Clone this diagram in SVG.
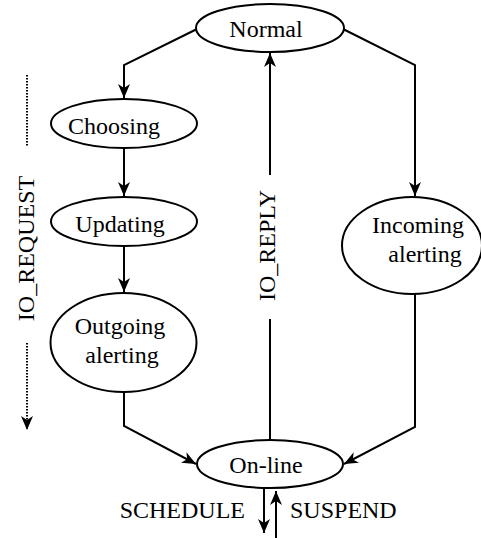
<svg xmlns="http://www.w3.org/2000/svg" width="481" height="538" viewBox="0 0 481 538">
<style>
.n{fill:#fff;stroke:#000;stroke-width:2}
.t{font-family:"Liberation Serif","Times New Roman",serif;font-size:24px;fill:#000;text-anchor:middle}
.c{fill:none;stroke:#000;stroke-width:2}
.d{fill:none;stroke:#000;stroke-width:2;stroke-dasharray:1.5 1.5}
</style>
<defs>
<marker id="a" viewBox="0 0 14 12" refX="14" refY="6" markerWidth="14" markerHeight="12" markerUnits="userSpaceOnUse" orient="auto">
<path d="M0,0 L14,6 L0,12 L4,6 z" fill="#000"/>
</marker>
</defs>
<rect width="481" height="538" fill="#fff"/>
<g id="connectors">
<polyline class="c" points="197,29 124,65 124,98" marker-end="url(#a)"/>
<polyline class="c" points="343,29 415,65 415,196" marker-end="url(#a)"/>
<line class="c" x1="124" y1="148" x2="124" y2="196" marker-end="url(#a)"/>
<line class="c" x1="124" y1="246" x2="124" y2="292" marker-end="url(#a)"/>
<polyline class="c" points="124,392 124,426 196,464" marker-end="url(#a)"/>
<polyline class="c" points="415,294 415,427 344,464" marker-end="url(#a)"/>
<line class="c" x1="270" y1="440" x2="270" y2="319"/>
<line class="c" x1="270" y1="175" x2="270" y2="53" marker-end="url(#a)"/>
<line class="c" x1="264" y1="488" x2="264" y2="533" marker-end="url(#a)"/>
<line class="c" x1="276" y1="538" x2="276" y2="491" marker-end="url(#a)"/>
<line class="d" x1="27" y1="75" x2="27" y2="147"/>
<line class="d" x1="27" y1="343" x2="27" y2="430" marker-end="url(#a)"/>
</g>
<g id="normal"><ellipse class="n" cx="270" cy="28" rx="74" ry="24"/><text class="t" x="266" y="37">Normal</text></g>
<g id="choosing"><ellipse class="n" cx="124" cy="123.5" rx="73" ry="24.5"/><text class="t" x="114" y="134">Choosing</text></g>
<g id="updating"><ellipse class="n" cx="124" cy="221.5" rx="73" ry="24.5"/><text class="t" x="120" y="232">Updating</text></g>
<g id="outgoing"><ellipse class="n" cx="123.5" cy="342.5" rx="73" ry="49.5"/><text class="t" x="120" y="334">Outgoing</text><text class="t" x="122" y="363">alerting</text></g>
<g id="incoming"><ellipse class="n" cx="412" cy="245.5" rx="70" ry="48.5"/><text class="t" x="418" y="233">Incoming</text><text class="t" x="425" y="262">alerting</text></g>
<g id="online"><ellipse class="n" cx="270" cy="464" rx="73" ry="24"/><text class="t" x="266" y="473">On-line</text></g>
<g id="labels">
<text class="t" transform="translate(275,245.5) rotate(-90)">IO_REPLY</text>
<text class="t" transform="translate(34,248.5) rotate(-90)">IO_REQUEST</text>
<text class="t" x="245" y="518" style="text-anchor:end">SCHEDULE</text>
<text class="t" x="290" y="518" style="text-anchor:start">SUSPEND</text>
</g>
</svg>
